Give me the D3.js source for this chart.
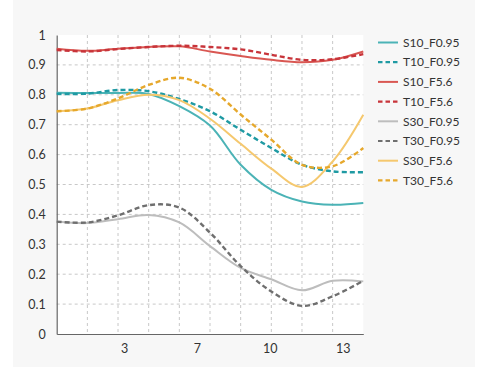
<!DOCTYPE html>
<html>
<head>
<meta charset="utf-8">
<script src="https://cdn.jsdelivr.net/npm/d3@7/dist/d3.min.js"></script>
<style>
  html, body { margin: 0; padding: 0; background: #ffffff; }
  svg { display: block; }
  text { font-family: Lato, "Open Sans", sans-serif; fill: #333; }
</style>
</head>
<body>
<svg id="chart" width="490" height="368"></svg>
<script>
// ---- data ----
const xValues = [0.3, 1.71, 3.12, 4.53, 5.94, 7.35, 8.76, 10.17, 11.58, 12.99, 14.4];
const xTickValues = [3.4, 6.75, 10.1, 13.45];
const yTickValues = [0, 0.1, 0.2, 0.3, 0.4, 0.5, 0.6, 0.7, 0.8, 0.9, 1];
const seriesNames = ["S10_F0.95", "T10_F0.95", "S10_F5.6", "T10_F5.6",
                     "S30_F0.95", "T30_F0.95", "S30_F5.6", "T30_F5.6"];
const S10_F095 = [0.807, 0.806, 0.806, 0.803, 0.762, 0.697, 0.566, 0.482, 0.443, 0.432, 0.438];
const T10_F095 = [0.803, 0.804, 0.816, 0.812, 0.786, 0.745, 0.683, 0.622, 0.566, 0.544, 0.541];
const S10_F56  = [0.954, 0.947, 0.954, 0.960, 0.962, 0.945, 0.930, 0.917, 0.909, 0.917, 0.945];
const T10_F56  = [0.950, 0.945, 0.953, 0.960, 0.964, 0.960, 0.952, 0.934, 0.917, 0.919, 0.936];
const S30_F095 = [0.376, 0.371, 0.384, 0.398, 0.373, 0.294, 0.221, 0.183, 0.146, 0.178, 0.176];
const T30_F095 = [0.376, 0.373, 0.397, 0.431, 0.423, 0.339, 0.227, 0.142, 0.094, 0.126, 0.178];
const S30_F56  = [0.745, 0.754, 0.782, 0.800, 0.782, 0.720, 0.636, 0.553, 0.492, 0.577, 0.733];
const T30_F56  = [0.745, 0.754, 0.788, 0.833, 0.857, 0.820, 0.734, 0.650, 0.566, 0.561, 0.622];
const seriesValues = [S10_F095, T10_F095, S10_F56, T10_F56, S30_F095, T30_F095, S30_F56, T30_F56];

// ---- styles ----
const colors = ["#4bb3b6", "#1f9aa3", "#d95752", "#c8343a", "#bdbdbd", "#6f6f6f", "#f5c86e", "#e6a82c"];
const dashed = [false, true, false, true, false, true, false, true];

const svg = d3.select("#chart");
const plot = { left: 56.7, right: 363.3, top: 35, bottom: 334 };

svg.append("rect").attr("x", 13).attr("y", 0).attr("width", 462).attr("height", 367).attr("fill", "#f7f7f7");
svg.append("rect").attr("x", plot.left).attr("y", plot.top)
  .attr("width", plot.right - plot.left).attr("height", plot.bottom - plot.top).attr("fill", "#ffffff");

const x = d3.scaleLinear().domain([xValues[0], xValues[xValues.length - 1]]).range([plot.left, plot.right]);
const y = d3.scaleLinear().domain([0, 1]).range([plot.bottom, plot.top]);

// grid
const grid = svg.append("g");
const xd = x.domain();
const vgrid = d3.range(1, 10).map(i => xd[0] + i * (xd[1] - xd[0]) / 10);
grid.selectAll("line.v").data(vgrid).join("line")
  .attr("x1", d => x(d)).attr("x2", d => x(d))
  .attr("y1", plot.top).attr("y2", plot.bottom)
  .attr("stroke", "#c8c8c8").attr("stroke-width", 1).attr("stroke-dasharray", "3,3");
grid.selectAll("line.h").data(yTickValues.filter(v => v > 0 && v < 1)).join("line")
  .attr("x1", plot.left).attr("x2", plot.right)
  .attr("y1", d => y(d)).attr("y2", d => y(d))
  .attr("stroke", "#c8c8c8").attr("stroke-width", 1).attr("stroke-dasharray", "3,3");

// axes
const xAxis = d3.axisBottom(x).tickValues(xTickValues).tickFormat(d3.format(".0f")).tickSize(0).tickPadding(10);
const gx = svg.append("g").attr("transform", `translate(0,${plot.bottom})`).call(xAxis);
gx.select(".domain").attr("stroke", "#666").attr("stroke-width", 1.2);
gx.selectAll("text").attr("font-size", 12.5).attr("fill", "#333").style("font-family", "Lato, sans-serif");

const yAxis = d3.axisLeft(y).tickValues(yTickValues).tickFormat(d => d3.format("")(d)).tickSize(0).tickPadding(11);
const gy = svg.append("g").attr("transform", `translate(${plot.left},0)`).call(yAxis);
gy.select(".domain").attr("stroke", "#666").attr("stroke-width", 1.2);
gy.selectAll("text").attr("font-size", 12.5).attr("fill", "#333").style("font-family", "Lato, sans-serif");

// lines
const line = d3.line()
  .x((d, i) => x(xValues[i]))
  .y(d => y(d))
  .curve(d3.curveCatmullRom.alpha(0.5));

const gl = svg.append("g");
seriesValues.forEach((vals, k) => {
  gl.append("path")
    .attr("d", line(vals))
    .attr("fill", "none")
    .attr("stroke", colors[k])
    .attr("stroke-width", dashed[k] ? 2.4 : 2)
    .attr("stroke-dasharray", dashed[k] ? "5,3" : null);
});

// legend
const lg = svg.append("g");
seriesNames.forEach((name, k) => {
  const yy = 42.5 + k * 19.7;
  lg.append("line")
    .attr("x1", 378).attr("x2", 398).attr("y1", yy).attr("y2", yy)
    .attr("stroke", colors[k]).attr("stroke-width", dashed[k] ? 2.2 : 2)
    .attr("stroke-dasharray", dashed[k] ? "4.5,3" : null);
  lg.append("text").attr("x", 403).attr("y", yy).attr("dy", "0.35em")
    .attr("font-size", 12).text(name);
});
</script>
</body>
</html>
